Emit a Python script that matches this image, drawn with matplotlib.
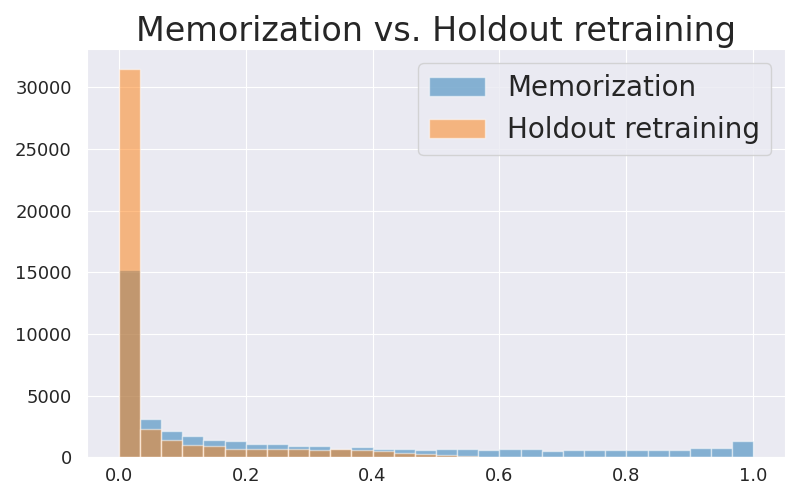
import numpy as np
import matplotlib
matplotlib.use("Agg")
import matplotlib.pyplot as plt
import seaborn as sns

sns.set_style("darkgrid")

# 30 equal bins on [0, 1]
bin_edges = np.linspace(0, 1, 31)

memorization = [15200, 3120, 2150, 1740, 1410, 1300, 1090, 1090, 920, 920,
                700, 840, 680, 680, 600, 650, 650, 570, 650, 650,
                490, 570, 570, 570, 570, 570, 570, 730, 730, 1300]
holdout = [31500, 2310, 1410, 1030, 920, 680, 680, 680, 680, 600,
           680, 600, 510, 380, 270, 190, 110, 30, 10, 0,
           0, 0, 0, 0, 0, 0, 0, 0, 0, 0]

fig, ax = plt.subplots(figsize=(8, 5), dpi=100)
ax.hist(bin_edges[:-1], bins=bin_edges, weights=memorization, alpha=0.5, label="Memorization")
ax.hist(bin_edges[:-1], bins=bin_edges, weights=holdout, alpha=0.5, label="Holdout retraining")
ax.set_title("Memorization vs. Holdout retraining", fontsize=24)
ax.tick_params(axis="both", labelsize=13)
ax.tick_params(axis="y", pad=7.5)
ax.legend(fontsize=20, loc="upper right")
plt.tight_layout()
plt.savefig("out.png")
